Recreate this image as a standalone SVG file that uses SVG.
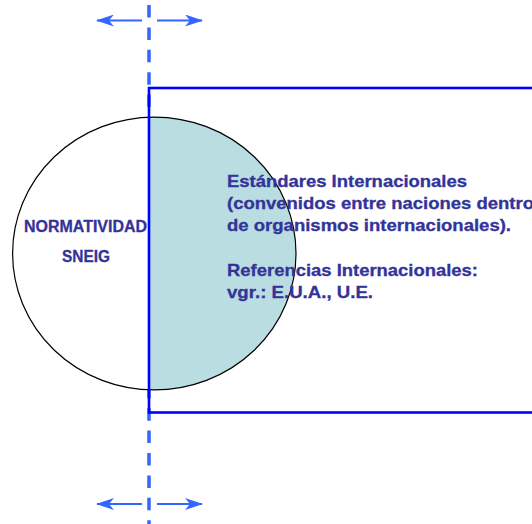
<svg xmlns="http://www.w3.org/2000/svg" width="532" height="524" viewBox="0 0 532 524">
  <style>
    .lbl { font-family: "Liberation Sans", Arial, sans-serif; font-weight: bold; fill: #333399; stroke: #333399; stroke-width: 0.3; }
    .dash { stroke: #3366ff; stroke-width: 3.5; stroke-dasharray: 12.5 9.9; fill: none; }
    .arr { stroke: #3366ff; stroke-width: 2; fill: none; marker-end: url(#head); }
  </style>
  <defs>
    <marker id="head" viewBox="0 0 18 12" refX="17" refY="6" markerWidth="18" markerHeight="12" markerUnits="userSpaceOnUse" orient="auto">
      <path d="M0,0 L18,6 L0,12 L5,6 z" fill="#3366ff"/>
    </marker>
    <clipPath id="rightHalf">
      <rect x="149" y="0" width="400" height="524"/>
    </clipPath>
  </defs>
  <rect width="532" height="524" fill="#ffffff"/>

  <g id="divider">
    <line class="dash" x1="149" y1="5" x2="149" y2="524"/>
  </g>

  <g id="normatividad">
    <ellipse cx="154.3" cy="253.5" rx="141.7" ry="136.4" fill="#ffffff"/>
    <ellipse cx="154.3" cy="253.5" rx="141.7" ry="136.4" fill="#b9dde1" clip-path="url(#rightHalf)"/>
    <ellipse cx="154.3" cy="253.5" rx="141.7" ry="136.4" fill="none" stroke="#000000" stroke-width="1.2"/>
    <text class="lbl" x="24" y="232" font-size="16" textLength="123" lengthAdjust="spacingAndGlyphs">NORMATIVIDAD</text>
    <text class="lbl" x="62" y="261.5" font-size="16.5" textLength="48" lengthAdjust="spacingAndGlyphs">SNEIG</text>
  </g>

  <g id="internacional">
    <rect x="149" y="88" width="400" height="324.5" fill="none" stroke="#0000ff" stroke-width="2.6"/>
    <text class="lbl" x="227" y="187" font-size="16.3" textLength="240" lengthAdjust="spacingAndGlyphs">Estándares Internacionales</text>
    <text class="lbl" x="227" y="209" font-size="16.3" textLength="307" lengthAdjust="spacingAndGlyphs">(convenidos entre naciones dentro</text>
    <text class="lbl" x="227" y="231" font-size="16.3" textLength="284" lengthAdjust="spacingAndGlyphs">de organismos internacionales).</text>
    <text class="lbl" x="227" y="275.5" font-size="16.3" textLength="251" lengthAdjust="spacingAndGlyphs">Referencias Internacionales:</text>
    <text class="lbl" x="227" y="297.5" font-size="16.3" textLength="146" lengthAdjust="spacingAndGlyphs">vgr.: E.U.A., U.E.</text>
  </g>

  <g id="connectors">
    <line class="arr" x1="142" y1="20.5" x2="97" y2="20.5"/>
    <line class="arr" x1="157" y1="20.5" x2="202" y2="20.5"/>
    <line class="arr" x1="142" y1="504" x2="97" y2="504"/>
    <line class="arr" x1="157" y1="504" x2="202" y2="504"/>
  </g>
</svg>
